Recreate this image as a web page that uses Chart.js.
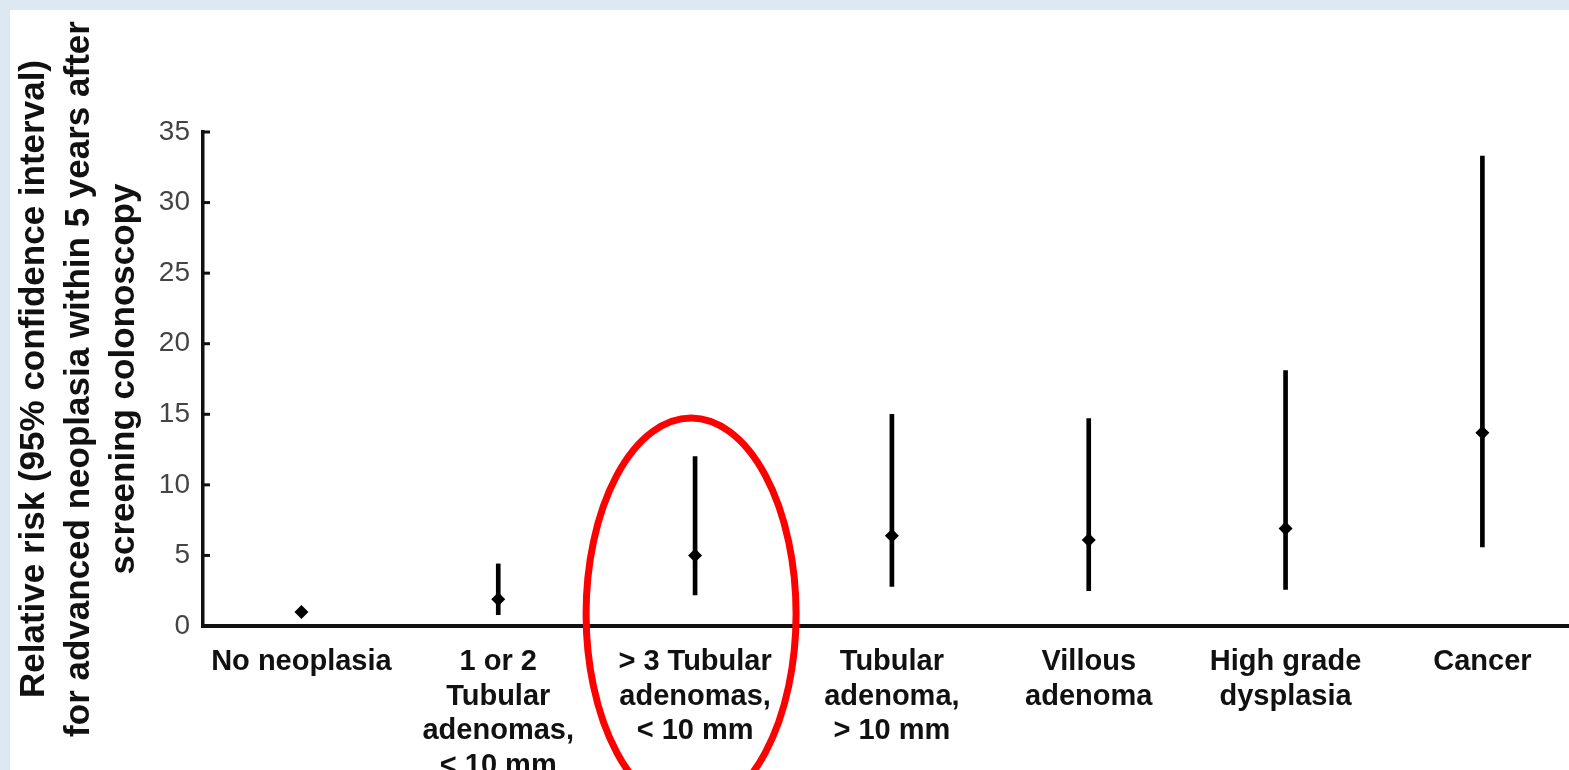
<!DOCTYPE html>
<html>
<head>
<meta charset="utf-8">
<script src="https://cdn.jsdelivr.net/npm/chart.js@4.4.0/dist/chart.umd.min.js"></script>
<style>
  html, body { margin: 0; padding: 0; background: #dce8f2; width: 1569px; height: 770px; overflow: hidden; }
  #wrap { position: absolute; left: 10px; top: 10px; width: 1559px; height: 760px; background: #fff; }
</style>
</head>
<body>
<div id="wrap"><canvas id="rrChart" width="1559" height="760"></canvas></div>
<script>
const categories = [
  ["No neoplasia"],
  ["1 or 2", "Tubular", "adenomas,", "< 10 mm"],
  ["> 3 Tubular", "adenomas,", "< 10 mm"],
  ["Tubular", "adenoma,", "> 10 mm"],
  ["Villous", "adenoma"],
  ["High grade", "dysplasia"],
  ["Cancer"]
]
const relRisk = [1.0, 1.9, 5.0, 6.4, 6.1, 6.9, 13.7]
const ciLow   = [null, 0.8, 2.2, 2.8, 2.5, 2.6, 5.6]
const ciHigh  = [null, 4.4, 12.0, 15.0, 14.7, 18.1, 33.3]
const yTicks  = [0, 5, 10, 15, 20, 25, 30, 35]
const yTitle  = [
  "Relative risk (95% confidence interval)",
  "for advanced neoplasia within 5 years after",
  "screening colonoscopy"
]
const highlighted = 2

const FONT = "'Liberation Sans', Arial, sans-serif"

// inward y ticks, rotated axis title and the red ring
const extras = {
  id: "extras",
  afterDraw(chart) {
    const ctx = chart.ctx
    const xs = chart.scales.x
    const ys = chart.scales.y
    ctx.save()

    ctx.strokeStyle = "#111"
    ctx.lineWidth = 3
    yTicks.forEach(v => {
      const py = ys.getPixelForValue(v)
      ctx.beginPath()
      ctx.moveTo(xs.left, py)
      ctx.lineTo(xs.left + 7, py)
      ctx.stroke()
    })

    ctx.fillStyle = "#111"
    ctx.font = "bold 35px " + FONT
    ctx.textAlign = "center"
    ctx.textBaseline = "middle"
    const midY = (ys.top + ys.bottom) / 2
    yTitle.forEach((line, i) => {
      ctx.save()
      ctx.translate(24 + i * 45, midY)
      ctx.rotate(-Math.PI / 2)
      ctx.fillText(line, 0, 0)
      ctx.restore()
    })

    ctx.strokeStyle = "#ff0000"
    ctx.lineWidth = 7
    ctx.beginPath()
    ctx.ellipse(xs.getPixelForValue(highlighted) - 4, ys.getPixelForValue(0) - 12, 105, 196, 0, 0, Math.PI * 2)
    ctx.stroke()

    ctx.restore()
  }
}

const ciData = categories
  .map((c, i) => ciLow[i] == null ? null : { x: i, y: [ciLow[i], ciHigh[i]] })
  .filter(Boolean)
const pointData = categories.map((c, i) => ({ x: i, y: relRisk[i] }))

new Chart(document.getElementById("rrChart"), {
  type: "bar",
  data: {
    datasets: [
      {
        type: "line",
        data: pointData,
        showLine: false,
        pointStyle: "rectRot",
        pointRadius: 7,
        pointBackgroundColor: "#000",
        pointBorderWidth: 0,
        order: 0
      },
      {
        type: "bar",
        data: ciData,
        backgroundColor: "#000",
        borderWidth: 0,
        barThickness: 4,
        order: 1
      }
    ]
  },
  options: {
    responsive: false,
    animation: false,
    devicePixelRatio: 1,
    layout: { autoPadding: false, padding: { top: 122, left: 0, right: 0, bottom: 0 } },
    plugins: { legend: { display: false }, tooltip: { enabled: false } },
    scales: {
      x: {
        type: "linear",
        offset: false,
        min: -0.5,
        max: 6.44,
        afterBuildTicks: s => { s.ticks = categories.map((c, i) => ({ value: i })) },
        afterFit: s => { s.height = 144; s.paddingLeft = 0; s.paddingRight = 0 },
        grid: { display: false, drawTicks: false, offset: false },
        border: { display: true, color: "#111", width: 4 },
        ticks: {
          callback: v => categories[v],
          autoSkip: false,
          maxRotation: 0,
          minRotation: 0,
          padding: 19,
          color: "#111",
          font: { family: FONT, size: 29, weight: "bold", lineHeight: 1.19 }
        }
      },
      y: {
        min: 0,
        max: 35,
        afterFit: s => { s.width = 193; s.paddingTop = 0; s.paddingBottom = 0 },
        grid: { display: false, drawTicks: false },
        border: { display: true, color: "#111", width: 3.5 },
        ticks: {
          stepSize: 5,
          padding: 13,
          color: "#444",
          font: { family: FONT, size: 28 }
        }
      }
    }
  },
  plugins: [extras]
})
</script>
</body>
</html>
